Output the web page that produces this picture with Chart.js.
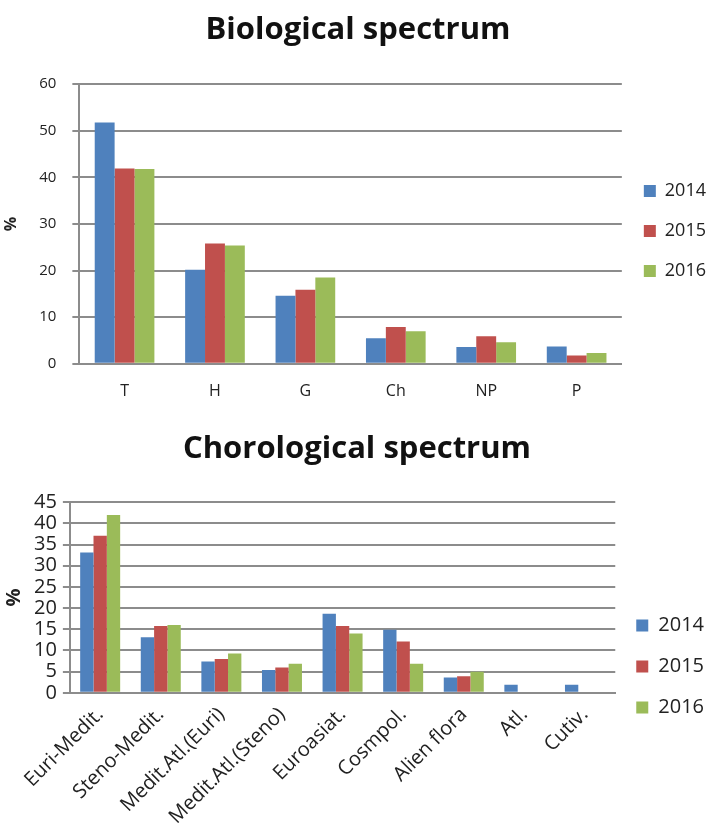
<!DOCTYPE HTML>
<html>
<head>
  <title>Spectrum</title>
  <script src="https://cdn.jsdelivr.net/npm/chart.js"></script>
  <style>
    body { margin: 0; background: #fff; }
    .box { position: absolute; left: 0; width: 716px; }
  </style>
</head>
<body>
  <div class="box" style="top:0; height:415px;"><canvas id="bioChart"></canvas></div>
  <div class="box" style="top:415px; height:416px;"><canvas id="choroChart"></canvas></div>

  <script type="text/javascript">
    var years = ["2014", "2015", "2016"];
    var colors = ['#4F81BD', '#C0504D', '#9BBB59'];

    // biological spectrum
    var bioLabels = ["T", "H", "G", "Ch", "NP", "P"];
    var bio2014 = [51.8, 20.2, 14.6, 5.5, 3.6, 3.7];
    var bio2015 = [41.9, 25.8, 15.9, 7.9, 5.9, 1.8];
    var bio2016 = [41.8, 25.4, 18.5, 7.0, 4.6, 2.3];

    // chorological spectrum
    var choroLabels = ["Euri-Medit.", "Steno-Medit.", "Medit.Atl.(Euri)", "Medit.Atl.(Steno)", "Euroasiat.", "Cosmpol.", "Alien flora", "Atl.", "Cutiv."];
    var choro2014 = [33.1, 13.1, 7.4, 5.4, 18.7, 14.9, 3.6, 1.9, 1.9];
    var choro2015 = [37.1, 15.8, 8.0, 6.0, 15.8, 12.1, 3.9, 0, 0];
    var choro2016 = [42.0, 16.0, 9.3, 6.9, 14.0, 6.9, 5.0, 0, 0];

    Chart.defaults.font.family = '"Open Sans", Lato, sans-serif';
    Chart.defaults.color = '#222';
    Chart.defaults.animation = false;

    function makeSets(a, b, c) {
      var series = [a, b, c];
      return years.map(function (y, i) {
        return {
          label: y,
          data: series[i],
          backgroundColor: colors[i],
          barPercentage: 1.0,
          categoryPercentage: 0.66
        };
      });
    }

    var gridColor = '#8c8c8c';

    new Chart(document.getElementById('bioChart'), {
      type: 'bar',
      data: { labels: bioLabels, datasets: makeSets(bio2014, bio2015, bio2016) },
      options: {
        responsive: true,
        maintainAspectRatio: false,
        layout: { padding: { left: 0, right: 0, top: 4, bottom: 4 } },
        plugins: {
          title: {
            display: true,
            text: 'Biological spectrum',
            font: { size: 31, weight: 'bold' },
            color: '#111',
            padding: { top: 8, bottom: 35 }
          },
          legend: {
            position: 'right',
            title: { display: true, text: ' ', font: { size: 1 }, padding: { top: 46, bottom: 0 } },
            labels: { boxWidth: 12, boxHeight: 12, padding: 22, font: { size: 18 }, color: '#222' }
          },
          tooltip: { enabled: false }
        },
        scales: {
          x: {
            grid: { display: false },
            border: { color: gridColor, width: 2 },
            ticks: { font: { size: 16 }, padding: 10 }
          },
          y: {
            min: 0, max: 60,
            ticks: { stepSize: 10, font: { size: 15 }, padding: 16 },
            grid: { color: gridColor, lineWidth: 2, tickLength: 7 },
            border: { color: gridColor, width: 2 },
            title: { display: true, text: '%', font: { size: 16, weight: 'bold' }, padding: 2 }
          }
        }
      }
    });

    new Chart(document.getElementById('choroChart'), {
      type: 'bar',
      data: { labels: choroLabels, datasets: makeSets(choro2014, choro2015, choro2016) },
      options: {
        responsive: true,
        maintainAspectRatio: false,
        layout: { padding: { left: 0, right: 2, top: 4, bottom: 0 } },
        plugins: {
          title: {
            display: true,
            text: 'Chorological spectrum',
            font: { size: 31, weight: 'bold' },
            color: '#111',
            padding: { top: 12, bottom: 34 }
          },
          legend: {
            position: 'right',
            title: { display: true, text: ' ', font: { size: 1 }, padding: { top: 82, bottom: 0 } },
            labels: { boxWidth: 12, boxHeight: 12, padding: 21, font: { size: 20 }, color: '#222' }
          },
          tooltip: { enabled: false }
        },
        scales: {
          x: {
            grid: { display: false },
            border: { color: gridColor, width: 2 },
            ticks: { font: { size: 20 }, minRotation: 45, maxRotation: 45, autoSkip: false, padding: 2 }
          },
          y: {
            min: 0, max: 45,
            ticks: { stepSize: 5, font: { size: 20 }, padding: 6, autoSkip: false },
            grid: { color: gridColor, lineWidth: 2, tickLength: 7 },
            border: { color: gridColor, width: 2 },
            title: { display: true, text: '%', font: { size: 20, weight: 'bold' }, padding: 2 }
          }
        }
      }
    });
  </script>
</body>
</html>
